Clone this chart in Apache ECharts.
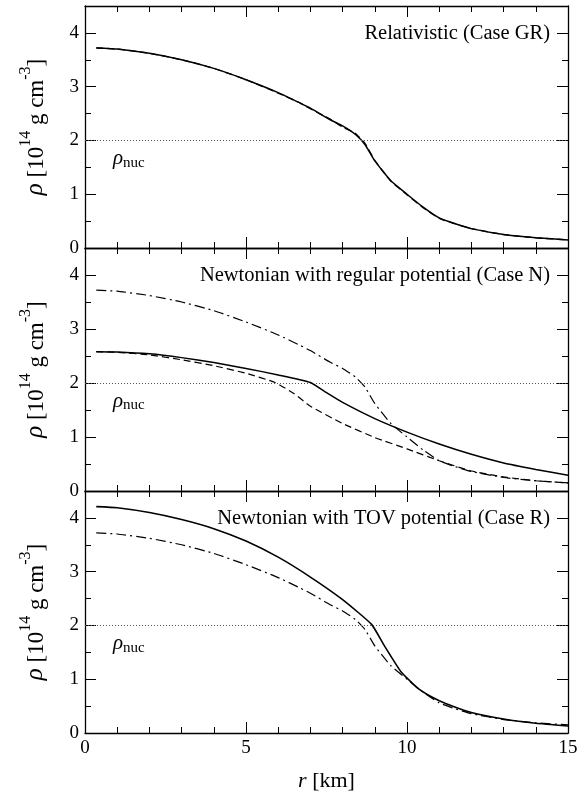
<!DOCTYPE html>
<html>
<head>
<meta charset="utf-8">
<script src="https://cdn.jsdelivr.net/npm/echarts@6/dist/echarts.min.js"></script>
<style>
html,body{margin:0;padding:0;background:#fff;}
#c{width:586px;height:793px;}
</style>
</head>
<body>
<div id="c"></div>
<script>
// ---- data (r in km, rho in 1e14 g/cm^3) ----
const rGR   = [0.35,1.0,2.0,3.0,4.0,5.0,6.0,6.7,7.0,7.6,8.0,8.4,8.7,9.0,9.5,10.0,10.5,11.0,11.5,12.0,13.0,14.0,15.0];
const rhoGR = [3.72,3.70,3.62,3.50,3.34,3.13,2.89,2.69,2.60,2.39,2.27,2.11,1.92,1.62,1.25,1.00,0.76,0.56,0.45,0.36,0.25,0.19,0.15];
const rhoGR2= [3.72,3.70,3.62,3.50,3.34,3.13,2.88,2.69,2.59,2.40,2.25,2.13,1.94,1.63,1.24,0.99,0.75,0.55,0.45,0.36,0.25,0.19,0.15];

const rN    = [0.35,1.0,2.0,3.0,4.0,5.0,6.0,7.0,7.5,8.0,9.0,10.0,11.0,12.0,13.0,14.0,15.0];
const rhoN  = [2.58,2.575,2.54,2.47,2.38,2.27,2.15,2.01,1.82,1.64,1.34,1.09,0.87,0.68,0.52,0.40,0.29];

const rNd   = [0.35,1.0,2.0,3.0,4.0,5.0,5.9,6.5,7.0,8.0,9.0,10.0,11.0,12.0,13.0,14.0,15.0];
const rhoNd = [2.58,2.57,2.52,2.43,2.32,2.18,2.01,1.80,1.57,1.25,0.99,0.78,0.56,0.37,0.26,0.19,0.15];

const rR    = [0.35,1.0,2.0,3.0,4.0,5.0,6.0,7.0,8.0,8.9,9.3,9.8,10.3,10.8,11.2,12.0,13.0,14.0,15.0];
const rhoR  = [4.21,4.19,4.10,3.97,3.80,3.57,3.27,2.90,2.48,2.02,1.62,1.15,0.85,0.66,0.55,0.38,0.26,0.18,0.13];

const rhoNuc = 2;
const xTicks = [0,5,10,15];
const yTicks = [0,1,2,3,4];
const panelTitles = ['Relativistic (Case GR)','Newtonian with regular potential (Case N)','Newtonian with TOV potential (Case R)'];

const zip = (xs, ys) => xs.map((x,i)=>[x, ys[i]]);
const FONT = '"Liberation Serif","DejaVu Serif",serif';

const grids = [
  {left:85, right:18, top:6, height:242},
  {left:85, right:18, top:248, height:243},
  {left:85, right:18, top:491, height:242}
];

const xAxes = [], yAxes = [];
grids.forEach((g, gi) => {
  const last = gi === 2;
  const common = {
    type:'value', min:0, max:15, interval:5, gridIndex:gi,
    axisLine:{show:true, onZero:false, lineStyle:{color:'#000', width:1.3}},
    axisTick:{show:true, inside:true, length:11, lineStyle:{color:'#000', width:1}},
    minorTick:{show:true, splitNumber:5, length:6, lineStyle:{color:'#000', width:1}},
    splitLine:{show:false}
  };
  xAxes.push(Object.assign({}, common, {
    position:'bottom',
    axisLabel:{show:last, color:'#000', fontFamily:FONT, fontSize:19, margin:6},
    name: last ? '{i|r} [km]' : '',
    nameLocation:'middle', nameGap:37,
    nameTextStyle:{color:'#000', fontFamily:FONT, fontSize:22, rich:{i:{fontStyle:'italic', fontFamily:FONT, fontSize:22}}}
  }));
  xAxes.push(Object.assign({}, common, {position:'top', axisLabel:{show:false}}));
  const yc = {
    type:'value', min:0, max:4.5, interval:1, gridIndex:gi,
    axisLine:{show:true, onZero:false, lineStyle:{color:'#000', width:1.3}},
    axisTick:{show:true, inside:true, length:11, lineStyle:{color:'#000', width:1}},
    minorTick:{show:true, splitNumber:2, length:6, lineStyle:{color:'#000', width:1}},
    splitLine:{show:false}
  };
  yAxes.push(Object.assign({}, yc, {
    position:'left',
    axisLabel:{show:true, color:'#000', fontFamily:FONT, fontSize:19, margin:6,
      formatter:(v)=> yTicks.includes(v) ? String(v) : ''},
    name:'{i|ρ} {n|[10}{s|14}{n| g cm}{s|-3}{n|]}',
    nameLocation:'middle', nameRotate:90, nameGap:37,
    nameTextStyle:{color:'#000', fontFamily:FONT, fontSize:23,
      rich:{
        i:{fontStyle:'italic', fontFamily:FONT, fontSize:25, lineHeight:30, verticalAlign:'bottom'},
        n:{fontFamily:FONT, fontSize:23, lineHeight:30, verticalAlign:'bottom'},
        s:{fontFamily:FONT, fontSize:16, lineHeight:16, verticalAlign:'top'}
      }}
  }));
  yAxes.push(Object.assign({}, yc, {position:'right', axisLabel:{show:false}}));
});

const nucLine = {
  silent:true, symbol:['none','none'],
  lineStyle:{type:[1,2], color:'#555', width:1},
  label:{show:false},
  data:[{yAxis:rhoNuc}]
};

function line(gi, data, type, width, withNuc){
  const s = {
    type:'line', xAxisIndex:gi*2, yAxisIndex:gi*2, data, showSymbol:false, symbol:'none',
    smooth:0.15, lineStyle:{color:'#000', width, type}, z: 3
  };
  if (withNuc) s.markLine = nucLine;
  return s;
}
const dashDot = [10,4,2,4];
const dashed = [7,4];

const series = [
  line(0, zip(rGR, rhoGR2), dashed, 1.3, true),
  line(0, zip(rGR, rhoGR), 'solid', 1.5, false),
  line(1, zip(rGR, rhoGR), dashDot, 1.2, true),
  line(1, zip(rNd, rhoNd), dashed, 1.2, false),
  line(1, zip(rN, rhoN), 'solid', 1.5, false),
  line(2, zip(rGR, rhoGR), dashDot, 1.2, true),
  line(2, zip(rR, rhoR), 'solid', 1.6, false)
];

const graphic = [];
grids.forEach((g, gi) => {
  graphic.push({
    type:'text', right:36, top:g.top + 17,
    style:{text:panelTitles[gi], font:'20.5px ' + FONT, fill:'#000'}
  });
  const yLine = g.top + g.height * (1 - rhoNuc/4.5);
  graphic.push({
    type:'text', left:113, top:yLine + 8,
    style:{
      text:'{r|ρ}{s|nuc}',
      rich:{
        r:{fontFamily:FONT, fontStyle:'italic', fontSize:21, fill:'#000', verticalAlign:'top', lineHeight:22},
        s:{fontFamily:FONT, fontSize:15, fill:'#000', verticalAlign:'bottom', lineHeight:22}
      }
    }
  });
});

const chart = echarts.init(document.getElementById('c'), null, {renderer:'canvas'});
chart.setOption({
  animation:false,
  backgroundColor:'#fff',
  grid:grids,
  xAxis:xAxes,
  yAxis:yAxes,
  series,
  graphic
});
</script>
</body>
</html>
